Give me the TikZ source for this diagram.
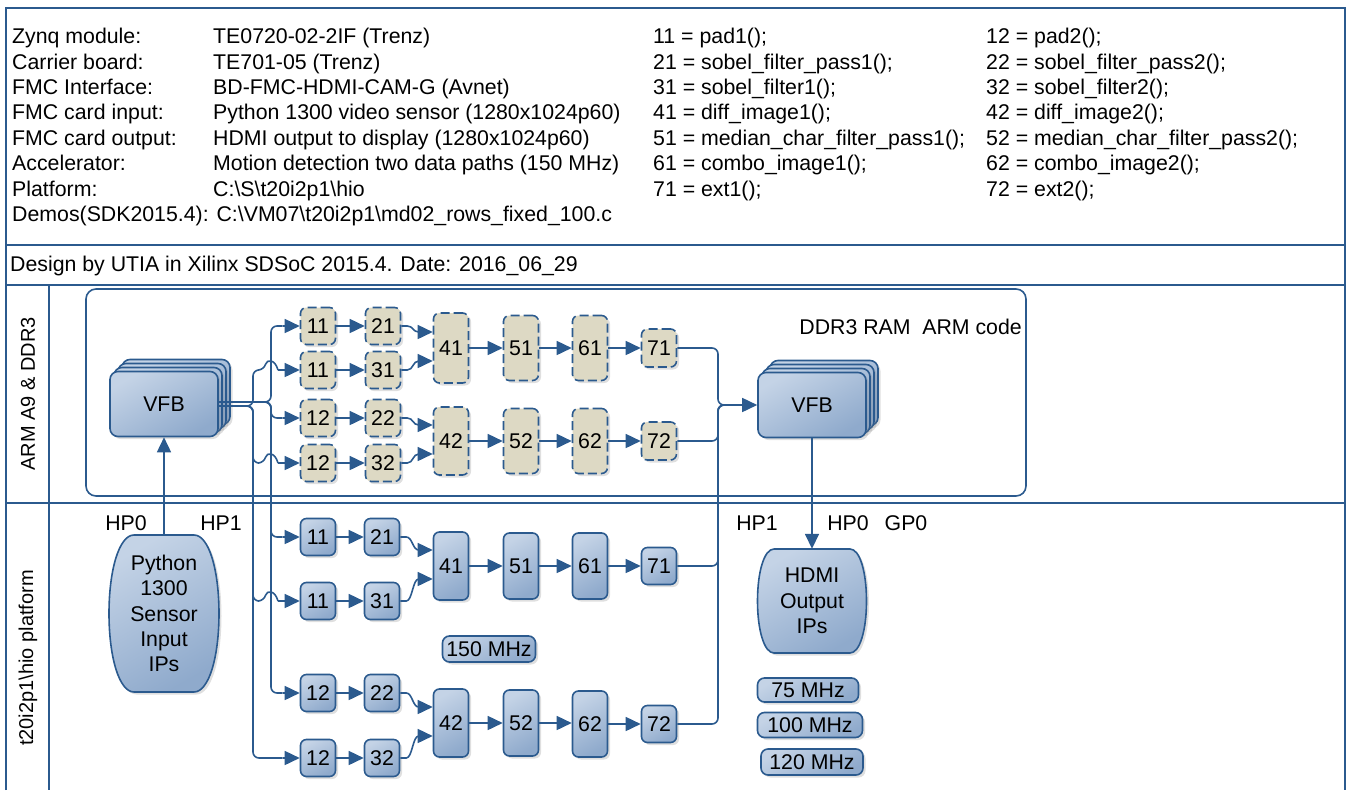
\documentclass[tikz,border=0pt]{standalone}
\usepackage{fontspec}
\setmainfont{Liberation Sans}
\usetikzlibrary{arrows.meta,calc,shadows}
\definecolor{ln}{HTML}{2B5A8E}
\definecolor{bxL}{HTML}{C4D3E6}
\definecolor{bxD}{HTML}{8FAACC}
\definecolor{beige}{HTML}{DDD9C4}
\newcommand\myS[3]{\draw[arr] (#1.east) -- ($(#1.east)+(6,0)$) .. controls ($(#1.east)+(12,0)$) and ($(#2.west)+(-20,#3)$) .. ($(#2.west)+(-14,#3)$) -- ($(#2.west)+(0,#3)$);}
\newcommand\myHop[1]{\draw[rc] (oD) -- (xa |- oD) -- (xa |- #1) -- ($(xb |- #1)+(-7,0)$) .. controls ($(xb |- #1)+(-4,-11)$) and ($(xb |- #1)+(4,-11)$) .. ($(xb |- #1)+(7,0)$);
  \draw[arr] ($(xb |- #1)+(7,0)$) -- (#1);}
\begin{document}
\begin{tikzpicture}[x=1pt,y=-1pt,font=\fontsize{21.3}{25.4}\selectfont,
  wire/.style={draw=ln,line width=1.6pt},
  arr/.style={wire,-{Triangle[length=15pt,width=14pt]}},
  rc/.style={wire,rounded corners=6pt},
  frame/.style={draw=ln,line width=2pt},
  shad/.style={drop shadow={opacity=0.25,shadow xshift=2.5pt,shadow yshift=-2.5pt}},
  blu/.style={draw=ln,line width=1.6pt,top color=bxL,bottom color=bxD,shading angle=30,shad},
  bsq/.style={blu,rounded corners=6pt,inner sep=0pt,minimum width=35pt,minimum height=37pt},
  btall/.style={bsq,minimum height=67pt},
  ysq/.style={draw=ln,line width=1.6pt,dash pattern=on 9pt off 4pt,fill=beige,shad,rounded corners=6pt,inner sep=0pt,minimum width=35pt,minimum height=37pt},
  ytall/.style={ysq,minimum height=67pt},
  vfbbox/.style={blu,rounded corners=8pt,inner sep=0pt,minimum width=108pt,minimum height=65pt},
  mhz/.style={blu,rounded corners=7pt,inner sep=0pt,minimum height=25pt},
  info/.style={anchor=base west,inner sep=0pt},
  sect/.style={rotate=90,font=\fontsize{20}{24}\selectfont}
]
\useasboundingbox (0,0) rectangle (1352,790);
% frame
\draw[frame] (6,790) -- (6,8) -- (1345,8) -- (1345,790);
\draw[frame] (6,245) -- (1345,245);
\draw[frame] (6,285) -- (1345,285);
\draw[frame] (6,503) -- (1345,503);
\draw[frame] (49,285) -- (49,790);
\draw[draw=ln,line width=1.6pt,rounded corners=10pt] (86,289) rectangle (1026,496);

% info text
\node[info] (l1) at (12,43.5) {Zynq module:};
\node[info] (l2) at (12,69) {Carrier board:};
\node[info] (l3) at (12,94.3) {FMC Interface:};
\node[info] (l4) at (12,119.7) {FMC card input:};
\node[info] (l5) at (12,145) {FMC card output:};
\node[info] (l6) at (12,170.5) {Accelerator:};
\node[info] (l7) at (12,196) {Platform:};
\node[info] (l8) at (12,221.4) {Demos(SDK2015.4): C:\textbackslash VM07\textbackslash t20i2p1\textbackslash md02\_rows\_fixed\_100.c};
\node[info] (v1) at (213,43.5) {TE0720-02-2IF (Trenz)};
\node[info] (v2) at (213,69) {TE701-05 (Trenz)};
\node[info] (v3) at (213,94.3) {BD-FMC-HDMI-CAM-G (Avnet)};
\node[info] (v4) at (213,119.7) {Python 1300 video sensor (1280x1024p60)};
\node[info] (v5) at (213,145) {HDMI output to display (1280x1024p60)};
\node[info] (v6) at (213,170.5) {Motion detection two data paths (150 MHz)};
\node[info] (v7) at (213,196) {C:\textbackslash S\textbackslash t20i2p1\textbackslash hio};
\node[info] (m1) at (653,43.5) {11 = pad1();};
\node[info] (m2) at (653,69) {21 = sobel\_filter\_pass1();};
\node[info] (m3) at (653,94.3) {31 = sobel\_filter1();};
\node[info] (m4) at (653,119.7) {41 = diff\_image1();};
\node[info] (m5) at (653,145) {51 = median\_char\_filter\_pass1();};
\node[info] (m6) at (653,170.5) {61 = combo\_image1();};
\node[info] (m7) at (653,196) {71 = ext1();};
\node[info] (r1) at (986,43.5) {12 = pad2();};
\node[info] (r2) at (986,69) {22 = sobel\_filter\_pass2();};
\node[info] (r3) at (986,94.3) {32 = sobel\_filter2();};
\node[info] (r4) at (986,119.7) {42 = diff\_image2();};
\node[info] (r5) at (986,145) {52 = median\_char\_filter\_pass2();};
\node[info] (r6) at (986,170.5) {62 = combo\_image2();};
\node[info] (r7) at (986,196) {72 = ext2();};
\node[info] (design) at (10,271) {Design by UTIA in Xilinx SDSoC 2015.4. Date: 2016\_06\_29};

% section labels
\node[sect] (lbA) at (28,394) {ARM A9 \& DDR3};
\node[sect] (lbB) at (28,658) {t20i2p1\textbackslash hio platform};
\node[anchor=east,inner sep=0pt] (ddr) at (1022,327) {DDR3 RAM\hspace{0.55em}ARM code};

% VFB stacks
\node[vfbbox] (vfbLc) at (176,392) {};
\node[vfbbox] (vfbLb) at (172,396) {};
\node[vfbbox] (vfbLa) at (168,400) {};
\node[vfbbox] (vfbL) at (164,404) {VFB};
\node[vfbbox] (vfbRc) at (824,393) {};
\node[vfbbox] (vfbRb) at (820,397) {};
\node[vfbbox] (vfbRa) at (816,401) {};
\node[vfbbox] (vfbR) at (812,405) {VFB};

% top (ARM) pipeline
\node[ysq] (t11a) at (318,326) {11};
\node[ysq] (t21a) at (383,326) {21};
\node[ysq] (t11b) at (318,370) {11};
\node[ysq] (t31b) at (383,370) {31};
\node[ysq] (t12c) at (318,418) {12};
\node[ysq] (t22c) at (383,418) {22};
\node[ysq] (t12d) at (318,463) {12};
\node[ysq] (t32d) at (383,463) {32};
\node[ytall,minimum height=70pt] (t41) at (451,348) {41};
\node[ytall,minimum height=65pt] (t51) at (521,348) {51};
\node[ytall,minimum height=65pt] (t61) at (590,348) {61};
\node[ysq,minimum height=38pt] (t71) at (659,348) {71};
\node[ytall,minimum height=68pt] (t42) at (451,441) {42};
\node[ytall,minimum height=65pt] (t52) at (521,441) {52};
\node[ytall,minimum height=65pt] (t62) at (590,441) {62};
\node[ysq,minimum height=38pt] (t72) at (659,441) {72};

% bottom (platform) pipeline
\node[bsq] (b11a) at (318,537) {11};
\node[bsq] (b21a) at (382,537) {21};
\node[bsq] (b11b) at (318,601) {11};
\node[bsq] (b31b) at (382,601) {31};
\node[btall,minimum height=68pt] (b41) at (451,566) {41};
\node[btall,minimum height=66pt] (b51) at (521,566) {51};
\node[btall,minimum height=66pt] (b61) at (590,566) {61};
\node[bsq] (b71) at (659,566) {71};
\node[bsq] (b12c) at (318,693) {12};
\node[bsq] (b22c) at (382,693) {22};
\node[bsq] (b12d) at (318,758) {12};
\node[bsq] (b32d) at (382,758) {32};
\node[btall,minimum height=68pt] (b42) at (451,723) {42};
\node[btall,minimum height=66pt] (b52) at (521,723) {52};
\node[btall,minimum height=66pt] (b62) at (590,724) {62};
\node[bsq] (b72) at (659,724) {72};

% MHz labels
\node[mhz,minimum width=93pt,minimum height=26pt] (f150) at (489,649) {150 MHz};
\node[mhz,minimum width=101pt,minimum height=24pt] (f75) at (808,690) {75 MHz};
\node[mhz,minimum width=105pt] (f100) at (810,725) {100 MHz};
\node[mhz,minimum width=102pt,minimum height=26pt] (f120) at (812,762) {120 MHz};

% Python and HDMI barrels
\path[blu] (134,535) -- (194,535) .. controls (209,535) and (219,570.3) .. (219,613.5)
  .. controls (219,656.7) and (209,692) .. (194,692) -- (134,692)
  .. controls (119,692) and (109,656.7) .. (109,613.5)
  .. controls (109,570.3) and (119,535) .. (134,535) -- cycle;
\node[align=center,inner sep=0pt,minimum width=110pt,minimum height=157pt] (py) at (164,613.5) {Python\\1300\\Sensor\\Input\\IPs};
\path[blu] (774,549) -- (850,549) .. controls (860,549) and (866.5,572.4) .. (866.5,601)
  .. controls (866.5,629.6) and (860,653) .. (850,653) -- (774,653)
  .. controls (764,653) and (757.5,629.6) .. (757.5,601)
  .. controls (757.5,572.4) and (764,549) .. (774,549) -- cycle;
\node[align=center,inner sep=0pt,minimum width=109pt,minimum height=104pt] (hdmi) at (812,601) {HDMI\\Output\\IPs};

% port labels
\node (hp0l) at (126,523) {HP0};
\node (hp1l) at (221,523) {HP1};
\node (hp1r) at (757,523) {HP1};
\node (hp0r) at (848,523) {HP0};
\node (gp0r) at (906,523) {GP0};

% bus coordinates
\coordinate (xa) at (253,0);
\coordinate (xb) at (271,0);
\coordinate (xr) at (718,0);
\coordinate (oU) at ($(vfbL.east)+(0,-2)$);
\coordinate (oD) at ($(vfbL.east)+(0,2)$);

% fan-out from left VFB (upper bus at xb)
\foreach \t in {t11a,t12c,b11a,b12c}{
  \draw[rc] (oU) -- (xb |- oU) -- (xb |- \t) -- ($(\t.west)+(-17,0)$);
  \draw[arr] ($(\t.west)+(-17,0)$) -- (\t);
}
% lower bus at xa (with line hops over xb)
\myHop{t11b}
\myHop{t12d}
\myHop{b11b}
\draw[rc] (oD) -- (xa |- oD) -- (xa |- b12d) -- ($(b12d.west)+(-17,0)$);
\draw[arr] ($(b12d.west)+(-17,0)$) -- (b12d);

% straight arrows
\foreach \a/\b in {t11a/t21a,t11b/t31b,t12c/t22c,t12d/t32d,t41/t51,t51/t61,t61/t71,t42/t52,t52/t62,t62/t72,
  b11a/b21a,b11b/b31b,b12c/b22c,b12d/b32d,b41/b51,b51/b61,b61/b71,b42/b52,b52/b62,b62/b72}
  \draw[arr] (\a.east) -- (\a.east -| \b.west);

% S-curves into 41/42
\myS{t21a}{t41}{-16}
\myS{t31b}{t41}{13}
\myS{t22c}{t42}{-16}
\myS{t32d}{t42}{13}
\myS{b21a}{b41}{-16}
\myS{b31b}{b41}{13}
\myS{b22c}{b42}{-16}
\myS{b32d}{b42}{13}

% into right VFB
\foreach \a in {t71,t72,b71,b72}
  \draw[rc] (\a.east) -- (xr |- \a.east) -- (xr |- vfbR.west) -- ($(vfbR.west)+(-17,0)$);
\draw[arr] ($(vfbR.west)+(-17,0)$) -- (vfbR.west);

% vertical links
\draw[arr] (py.north) -- (vfbL.south);
\draw[arr] (vfbR.south) -- (hdmi.north);
\end{tikzpicture}
\end{document}
